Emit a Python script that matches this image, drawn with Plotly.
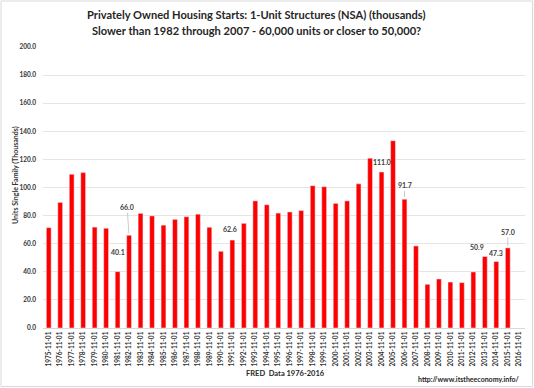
import plotly.graph_objects as go

years = list(range(1975, 2017))
categories = [f"{y}-11-01" for y in years]
starts = [71.4, 89.4, 109.4, 110.6, 71.8, 71.0, 40.1, 66.0, 81.6, 79.8,
          73.2, 77.3, 79.2, 81.0, 71.7, 54.6, 62.6, 74.5, 90.5, 87.7,
          81.8, 82.6, 83.6, 101.3, 100.6, 88.7, 90.5, 102.6, 120.9, 111.0,
          133.3, 91.7, 58.4, 31.1, 34.9, 32.7, 32.3, 39.9, 50.9, 47.3,
          57.0, None]
labelled = {"1981-11-01": (0, -14, False), "1982-11-01": (-2, -22, True),
            "1991-11-01": (-2, -5, False), "2004-11-01": (0, -4, False),
            "2006-11-01": (0, -8, True), "2013-11-01": (-8, -3, False),
            "2014-11-01": (0, -3, False), "2015-11-01": (0, -10, True)}

title_lines = ["Privately Owned Housing Starts: 1-Unit Structures (NSA) (thousands)",
               "Slower than 1982 through 2007 - 60,000 units or closer to 50,000?"]
y_title = "Units Single Family (Thousands)"
x_title = "FRED  Data 1976-2016"
source = "http://www.itstheeconomy.info/"

FONT = "Lato"
fig = go.Figure()
fig.add_trace(go.Bar(x=categories, y=starts, marker=dict(color="#ff0000"),
                     width=0.42, showlegend=False))

for cat, (dx, dy, line) in labelled.items():
    v = starts[categories.index(cat)]
    if line:
        fig.add_annotation(x=cat, y=v, text=f"<b>{v:.1f}</b>", showarrow=True,
                           ax=dx, ay=dy - 6, arrowhead=0, arrowwidth=0.8,
                           arrowcolor="#bfbfbf", standoff=2,
                           font=dict(family=FONT, size=7, color="#404040"))
    else:
        fig.add_annotation(x=cat, y=v, text=f"<b>{v:.1f}</b>", showarrow=False,
                           xshift=dx, yshift=-dy, yanchor="bottom",
                           font=dict(family=FONT, size=7, color="#404040"))

# plot area: x 43..525 (482 px), y 47..328 (281 px)
for i, line in enumerate(title_lines):
    fig.add_annotation(x=(256 - 43) / 482, y=(328 - (15 + 16 * i)) / 281,
                       xref="paper", yref="paper", xanchor="center", yanchor="middle",
                       showarrow=False, text="<b>" + line + "</b>",
                       font=dict(family=FONT, size=11.1, color="#262626"))

fig.update_layout(
    width=534, height=388,
    margin=dict(l=43, r=9, t=47, b=60),
    paper_bgcolor="white", plot_bgcolor="white",
    xaxis=dict(type="category", tickangle=-90, showgrid=False, automargin=False,
               tickfont=dict(family=FONT, size=6.5, color="#333333", weight="bold"),
               showline=True, linecolor="#d9d9d9", ticks=""),
    yaxis=dict(range=[0, 200], dtick=20, tickformat=".1f", automargin=False,
               gridcolor="#e5e5e5", zeroline=False, showline=False,
               tickfont=dict(family=FONT, size=6.5, color="#333333", weight="bold"),
               ticks="", ticklabelstandoff=6),
    bargap=0.5,
)

fig.add_annotation(x=(285 - 43) / 482, y=(328 - 373) / 281, xref="paper", yref="paper",
                   xanchor="center", yanchor="middle", showarrow=False,
                   text="<b>" + x_title + "</b>",
                   font=dict(family=FONT, size=7.5, color="#262626"))
fig.add_annotation(x=(522 - 43) / 482, y=(328 - 379) / 281, xref="paper", yref="paper",
                   xanchor="right", yanchor="middle", showarrow=False,
                   text="<b>" + source + "</b>",
                   font=dict(family=FONT, size=7, color="#262626"))
fig.add_annotation(x=(15 - 43) / 482, y=(328 - 175) / 281, xref="paper", yref="paper",
                   xanchor="center", yanchor="middle", showarrow=False, textangle=-90,
                   text="<b>" + y_title + "</b>",
                   font=dict(family=FONT, size=7, color="#333333"))
fig.add_shape(type="rect", xref="paper", yref="paper", x0=(1 - 43) / 482,
              x1=(532.5 - 43) / 482, y0=(328 - 386.5) / 281, y1=(328 - 1) / 281,
              line=dict(color="#d9d9d9", width=1))

fig.write_html("out.html", config={"displayModeBar": False},
               post_script="document.body.style.margin='0';document.body.style.overflow='hidden';")
